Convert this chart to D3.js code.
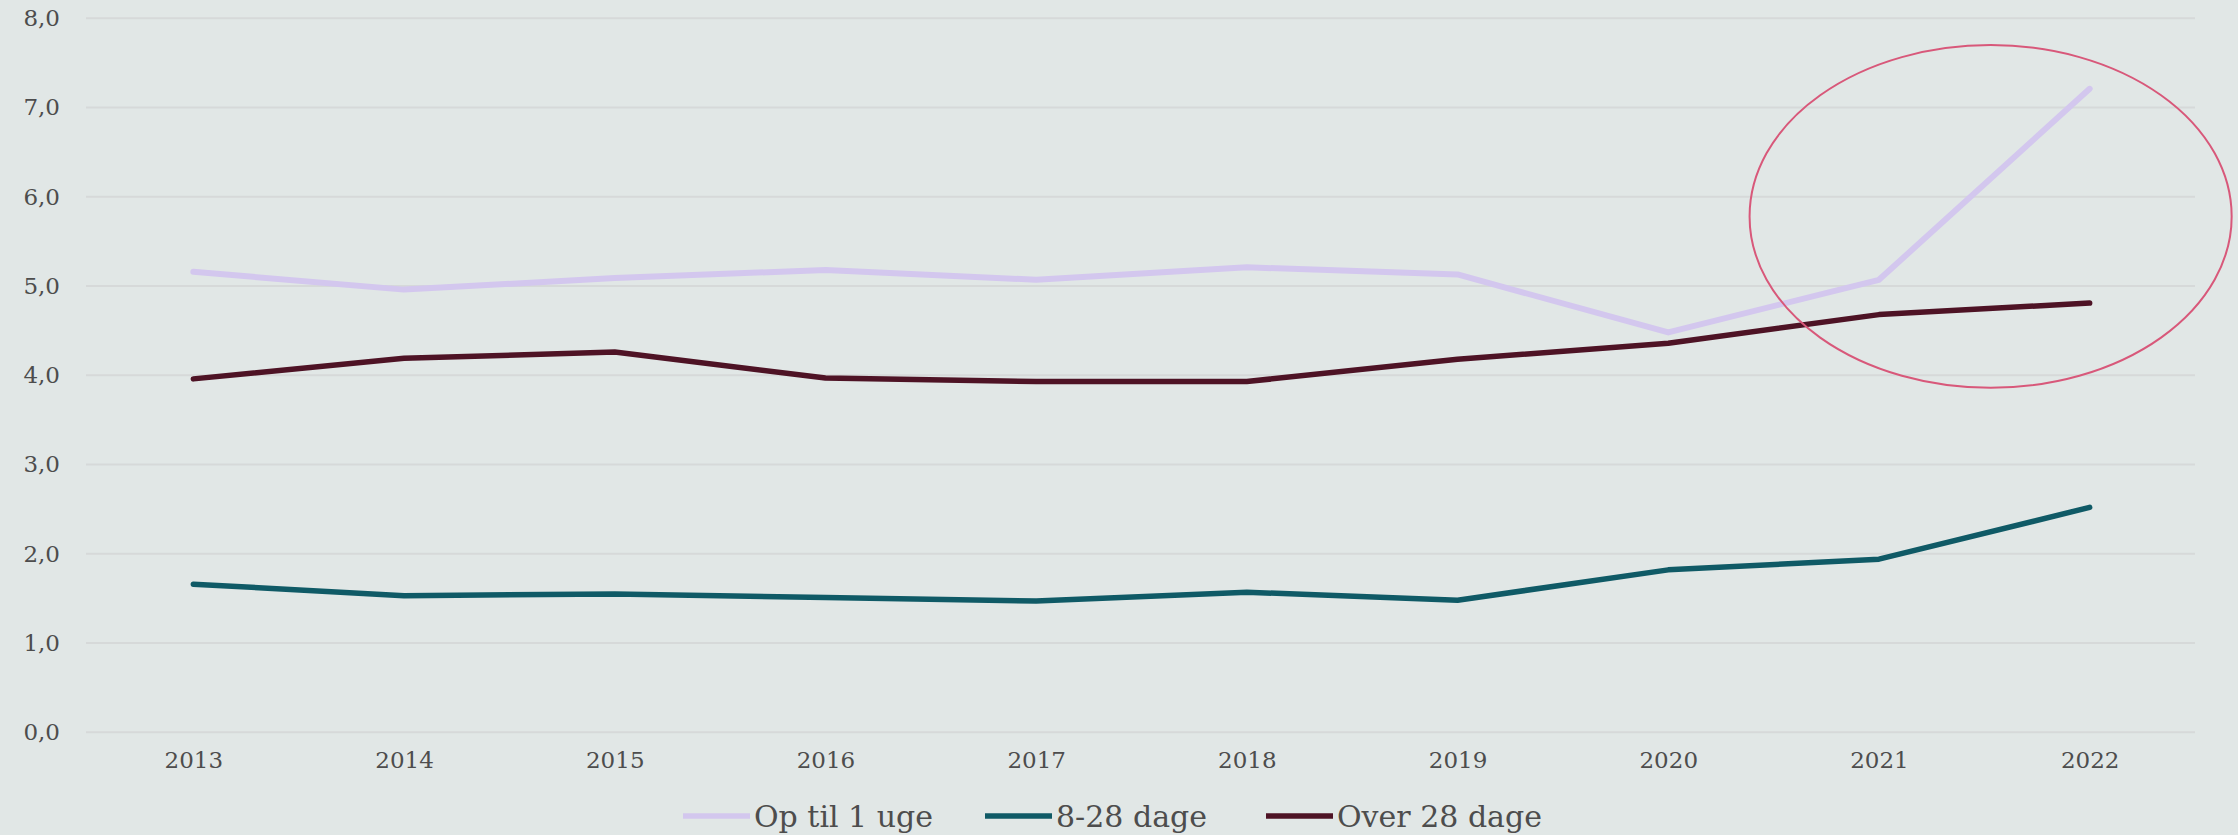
<!DOCTYPE html>
<html>
<head>
<meta charset="utf-8">
<script src="https://cdn.jsdelivr.net/npm/d3@7/dist/d3.min.js"></script>
<style>
  html, body { margin: 0; padding: 0; background: #e1e7e6; }
  svg { display: block; }
</style>
</head>
<body>
<div id="chart"></div>
<script>
// ---- data ----
const years = ["2013","2014","2015","2016","2017","2018","2019","2020","2021","2022"];
const opTil1Uge = [5.16, 4.96, 5.09, 5.18, 5.07, 5.21, 5.13, 4.48, 5.07, 7.21];
const dage8til28 = [1.66, 1.53, 1.55, 1.51, 1.47, 1.57, 1.48, 1.82, 1.94, 2.52];
const over28Dage = [3.96, 4.19, 4.26, 3.97, 3.93, 3.93, 4.18, 4.36, 4.68, 4.81];
const seriesNames = ["Op til 1 uge", "8-28 dage", "Over 28 dage"];
const yTicks = [0, 1, 2, 3, 4, 5, 6, 7, 8];
const yTickLabels = ["0,0", "1,0", "2,0", "3,0", "4,0", "5,0", "6,0", "7,0", "8,0"];

// ---- layout / style ----
const W = 2238, H = 835;
const colors = ["#d3c7ee", "#0f5a66", "#4e1325"];
const widths = [6, 5.5, 5.5];

const svg = d3.select("#chart").append("svg")
  .attr("width", W).attr("height", H);

svg.append("rect").attr("width", W).attr("height", H).attr("fill", "#e1e7e6");

const x = d3.scalePoint().domain(years).range([88, 2195]).padding(0.5);
const y = d3.scaleLinear().domain([0, 8]).range([732.3, 18.3]);

// gridlines
svg.append("g").selectAll("line").data(yTicks).join("line")
  .attr("x1", 86).attr("x2", 2195)
  .attr("y1", d => y(d)).attr("y2", d => y(d))
  .attr("stroke", "#d6d9d9").attr("stroke-width", 2);

// y axis labels
const yAxis = d3.axisLeft(y).tickValues(yTicks)
  .tickFormat((d, i) => yTickLabels[i]).tickSize(0).tickPadding(0);
const gy = svg.append("g").attr("transform", "translate(60,0)").call(yAxis);
gy.select(".domain").remove();
gy.selectAll("text")
  .attr("font-family", "'DejaVu Serif', serif")
  .attr("font-size", 23)
  .attr("fill", "#4d4d4d");

// x axis labels
const xAxis = d3.axisBottom(x).tickSize(0).tickPadding(0);
const gx = svg.append("g").attr("transform", "translate(0,752)").call(xAxis);
gx.select(".domain").remove();
gx.selectAll("text")
  .attr("dy", "0.71em")
  .attr("font-family", "'DejaVu Serif', serif")
  .attr("font-size", 23)
  .attr("fill", "#4d4d4d");

// lines
const allSeries = [opTil1Uge, dage8til28, over28Dage];
const line = d3.line().x((d, i) => x(years[i])).y(d => y(d));
allSeries.forEach((s, k) => {
  svg.append("path").datum(s)
    .attr("d", line)
    .attr("fill", "none")
    .attr("stroke", colors[k])
    .attr("stroke-width", widths[k])
    .attr("stroke-linejoin", "round")
    .attr("stroke-linecap", "round");
});

// annotation ellipse (positioned in data space)
const annCenterIdx = 8.53, annCenterVal = 5.78, annRxSteps = 1.144, annRyVal = 1.92;
const step = x.step();
svg.append("ellipse")
  .attr("cx", x(years[0]) + annCenterIdx * step)
  .attr("cy", y(annCenterVal))
  .attr("rx", annRxSteps * step)
  .attr("ry", y(0) - y(annRyVal))
  .attr("fill", "none")
  .attr("stroke", "#d8587a")
  .attr("stroke-width", 2);

// legend
const legendX = [683, 985, 1266];
const legend = svg.append("g");
seriesNames.forEach((name, k) => {
  const g = legend.append("g").attr("transform", `translate(${legendX[k]},816)`);
  g.append("line").attr("x1", 0).attr("x2", 67).attr("y1", 0).attr("y2", 0)
    .attr("stroke", colors[k]).attr("stroke-width", 5.5);
  g.append("text").attr("x", 71).attr("y", 0).attr("dy", "0.36em")
    .attr("font-family", "'DejaVu Serif', serif")
    .attr("font-size", 30)
    .attr("fill", "#4d4d4d")
    .text(name);
});
</script>
</body>
</html>
